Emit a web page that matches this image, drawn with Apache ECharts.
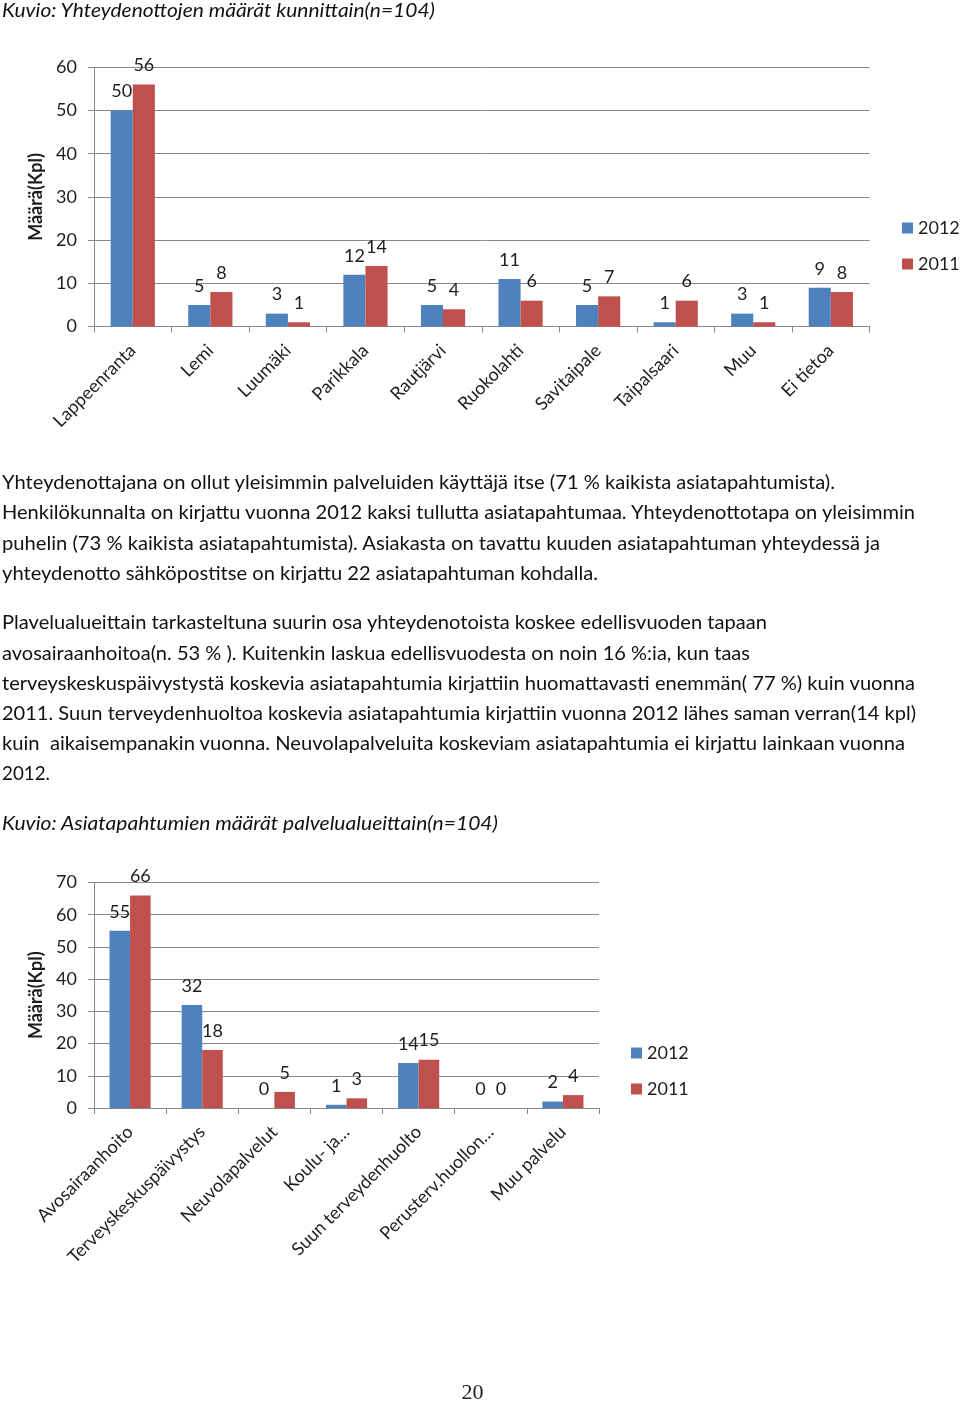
<!DOCTYPE html>
<html>
<head>
<meta charset="utf-8">
<script src="https://cdn.jsdelivr.net/npm/echarts@6/dist/echarts.min.js"></script>
<style>
  html, body { margin: 0; padding: 0; background: #fff; }
  #page { position: relative; width: 960px; height: 1403px; overflow: hidden; }
  #chart { position: absolute; left: 0; top: 0; width: 960px; height: 1403px; }
  .ln { position: absolute; left: 2px; white-space: pre; font-family: Lato, "Open Sans", sans-serif;
        font-size: 19px; line-height: 1.2; color: #111; transform-origin: 0 0; display: inline-block; }
  .it { font-style: italic; }
  #pg { position: absolute; left: 0; width: 945px; text-align: center; font-family: "Liberation Serif", "DejaVu Serif", serif;
        font-size: 22px; color: #222; top: 1379px; }
</style>
</head>
<body>
<div id="page">
  <div id="chart"></div>
  <div id="texts"></div>
  <div id="pg">20</div>
</div>
<script>
// ---------- data ----------
const categories1 = ['Lappeenranta','Lemi','Luumäki','Parikkala','Rautjärvi','Ruokolahti','Savitaipale','Taipalsaari','Muu','Ei tietoa'];
const values1_2012 = [50, 5, 3, 12, 5, 11, 5, 1, 3, 9];
const values1_2011 = [56, 8, 1, 14, 4, 6, 7, 6, 1, 8];
const yMax1 = 60, yStep1 = 10;

const categories2 = ['Avosairaanhoito','Terveyskeskuspäivystys','Neuvolapalvelut','Koulu- ja…','Suun terveydenhuolto','Perusterv.huollon…','Muu palvelu'];
const values2_2012 = [55, 32, 0, 1, 14, 0, 2];
const values2_2011 = [66, 18, 5, 3, 15, 0, 4];
const yMax2 = 70, yStep2 = 10;

const seriesNames = ['2012', '2011'];
const yAxisTitle = 'Määrä(Kpl)';

// text lines: [text, baseline y, target right edge, italic]
const textLines = [
  ['Kuvio: Yhteydenottojen määrät kunnittain(n=104)', 18, 435, true],
  ['Yhteydenottajana on ollut yleisimmin palveluiden käyttäjä itse (71 % kaikista asiatapahtumista).', 490, 835, false],
  ['Henkilökunnalta on kirjattu vuonna 2012 kaksi tullutta asiatapahtumaa. Yhteydenottotapa on yleisimmin', 520, 915, false],
  ['puhelin (73 % kaikista asiatapahtumista). Asiakasta on tavattu kuuden asiatapahtuman yhteydessä ja', 551, 880, false],
  ['yhteydenotto sähköpostitse on kirjattu 22 asiatapahtuman kohdalla.', 581, 598, false],
  ['Plavelualueittain tarkasteltuna suurin osa yhteydenotoista koskee edellisvuoden tapaan', 630, 767, false],
  ['avosairaanhoitoa(n. 53 % ). Kuitenkin laskua edellisvuodesta on noin 16 %:ia, kun taas', 661, 750, false],
  ['terveyskeskuspäivystystä koskevia asiatapahtumia kirjattiin huomattavasti enemmän( 77 %) kuin vuonna', 691, 915, false],
  ['2011. Suun terveydenhuoltoa koskevia asiatapahtumia kirjattiin vuonna 2012 lähes saman verran(14 kpl)', 721, 916, false],
  ['kuin  aikaisempanakin vuonna. Neuvolapalveluita koskeviam asiatapahtumia ei kirjattu lainkaan vuonna', 751, 905, false],
  ['2012.', 781, 50, false],
  ['Kuvio: Asiatapahtumien määrät palvelualueittain(n=104)', 831, 498, true]
];

// ---------- text ----------
const FS = 19;
const holder = document.getElementById('texts');
const els = [];
textLines.forEach(function (t) {
  const d = document.createElement('div');
  d.className = 'ln' + (t[3] ? ' it' : '');
  d.textContent = t[0];
  d.style.top = (t[1] - 0.987 * FS) + 'px';
  holder.appendChild(d);
  els.push([d, t[2]]);
});
function fit() {
  els.forEach(function (p) {
    const d = p[0];
    d.style.transform = 'none';
    const w = d.getBoundingClientRect().width;
    const target = p[1] - 2;
    if (w > 0) d.style.transform = 'scaleX(' + (target / w) + ')';
  });
}
fit();
if (document.fonts && document.fonts.ready) document.fonts.ready.then(fit);

// ---------- chart ----------
const FONT = 'Lato';
const TXT = '#1e1e1e';
const GRAY = '#8a8a8a';
const BLUE = '#4F81BD';
const RED = '#C0504D';

function xAxis(idx, cats) {
  return {
    type: 'category', gridIndex: idx, data: cats,
    axisLine: { show: true, lineStyle: { color: GRAY, width: 1 } },
    axisTick: { show: true, length: 6, lineStyle: { color: GRAY } },
    axisLabel: { rotate: 45, margin: 21, fontFamily: FONT, fontSize: 18, color: TXT, interval: 0 }
  };
}
function yAxis(idx, max, step) {
  return {
    type: 'value', gridIndex: idx, min: 0, max: max, interval: step,
    name: yAxisTitle, nameLocation: 'middle', nameRotate: 90, nameGap: 38,
    nameTextStyle: { fontFamily: FONT, fontSize: 18, fontWeight: 'bold', color: TXT },
    axisLine: { show: true, lineStyle: { color: GRAY, width: 1 } },
    axisTick: { show: true, length: 6, lineStyle: { color: GRAY } },
    splitLine: { show: true, lineStyle: { color: GRAY, width: 1 } },
    axisLabel: { margin: 17, fontFamily: FONT, fontSize: 18, color: TXT }
  };
}
function bar(name, data, color, idx) {
  return {
    type: 'bar', name: name, data: data, xAxisIndex: idx, yAxisIndex: idx,
    barGap: '0%', barCategoryGap: '43%',
    itemStyle: { color: color },
    label: { show: true, position: 'top', distance: 10, fontFamily: FONT, fontSize: 18, color: TXT },
    animation: false
  };
}
function legend(left, top) {
  return {
    orient: 'vertical', left: left, top: top, padding: 0,
    itemWidth: 11, itemHeight: 11, itemGap: 18, icon: 'rect',
    data: seriesNames,
    textStyle: { fontFamily: FONT, fontSize: 18, color: TXT, lineHeight: 18 }
  };
}

const chart = echarts.init(document.getElementById('chart'), null, { renderer: 'canvas' });
chart.setOption({
  animation: false,
  backgroundColor: 'transparent',
  grid: [
    { left: 94, top: 67.3, width: 775.6, height: 259.3 },
    { left: 94, top: 882.5, width: 505, height: 225.5 }
  ],
  legend: [legend(902, 219), legend(631, 1044)],
  xAxis: [xAxis(0, categories1), xAxis(1, categories2)],
  yAxis: [yAxis(0, yMax1, yStep1), yAxis(1, yMax2, yStep2)],
  series: [
    bar(seriesNames[0], values1_2012, BLUE, 0),
    bar(seriesNames[1], values1_2011, RED, 0),
    bar(seriesNames[0], values2_2012, BLUE, 1),
    bar(seriesNames[1], values2_2011, RED, 1)
  ]
});
</script>
</body>
</html>
